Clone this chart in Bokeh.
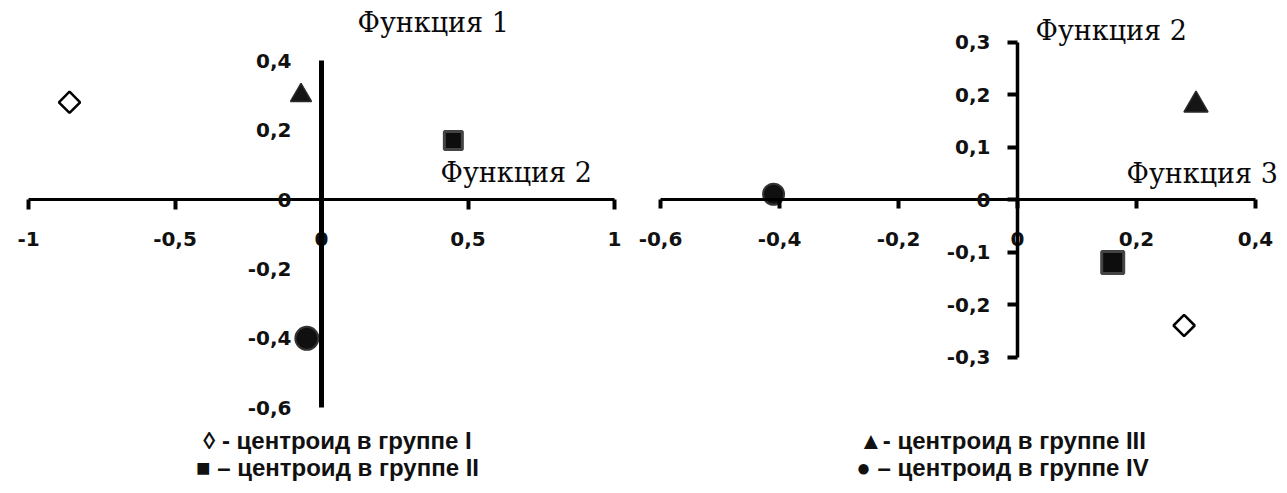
from bokeh.plotting import figure
from bokeh.models import Range1d, LinearAxis, FixedTicker, Label
from bokeh.layouts import row
from bokeh.embed import file_html
from bokeh.resources import INLINE

# ---------------- data ----------------
groups = ["I", "II", "III", "IV"]
markers = ["square", "square", "triangle", "circle"]   # group I drawn as a rotated square (◊)
marker_angle = [0.785398, 0, 0, 0]

# left chart: x = Функция 2, y = Функция 1
left_x = [-0.86, 0.45, -0.07, -0.05]
left_y = [0.28, 0.17, 0.30, -0.40]
# right chart: x = Функция 3, y = Функция 2
right_x = [0.28, 0.16, 0.30, -0.41]
right_y = [-0.24, -0.12, 0.18, 0.01]

left_xticks = [-1, -0.5, 0, 0.5, 1]
left_xlabels = ["-1", "-0,5", "0", "0,5", "1"]
left_yticks = [-0.6, -0.4, -0.2, 0, 0.2, 0.4]
left_ylabels = ["-0,6", "-0,4", "-0,2", "0", "0,2", "0,4"]
right_xticks = [-0.6, -0.4, -0.2, 0, 0.2, 0.4]
right_xlabels = ["-0,6", "-0,4", "-0,2", "0", "0,2", "0,4"]
right_yticks = [-0.3, -0.2, -0.1, 0, 0.1, 0.2, 0.3]
right_ylabels = ["-0,3", "-0,2", "-0,1", "0", "0,1", "0,2", "0,3"]

left_titles = ["Функция 1", "Функция 2"]
right_titles = ["Функция 2", "Функция 3"]
legend_left = ["\u25ca - центроид в группе I", "\u25a0 \u2013 центроид в группе II"]
legend_right = ["\u25b2- центроид в группе III", "\u25cf \u2013 центроид в группе IV"]

# ---------------- styles ----------------
marker_fill = ["white", "#0d0d0d", "#151515", "#101010"]
marker_line = ["black", "#444444", "#2a2a2a", "#333333"]
marker_lw = [2.5, 3, 1.5, 2]
TICK_FONT = "DejaVu Sans"
TITLE_FONT = "DejaVu Serif"
LEG_FONT = "Liberation Sans"

H = 490


def make_fig(width, x0px, xscale, y0px, yscale):
    xr = Range1d(-x0px / xscale, (width - x0px) / xscale)
    yr = Range1d(-(H - y0px) / yscale, y0px / yscale)
    p = figure(width=width, height=H, x_range=xr, y_range=yr,
               x_axis_location=None, y_axis_location=None,
               toolbar_location=None, output_backend="svg", min_border=0)
    p.outline_line_color = None
    p.grid.visible = False
    return p


def style_axis(ax, ticks, labels, bounds, tick_out, lw, standoff):
    ax.ticker = FixedTicker(ticks=ticks)
    ax.major_label_overrides = dict(zip(ticks, labels))
    ax.bounds = bounds
    ax.fixed_location = 0
    ax.axis_line_width = lw
    ax.axis_line_color = "black"
    ax.major_tick_in = 0
    ax.major_tick_out = tick_out
    ax.major_tick_line_width = 4
    ax.major_tick_line_color = "black" if tick_out > 0 else None
    ax.minor_tick_line_color = None
    ax.major_label_text_font = TICK_FONT
    ax.major_label_text_font_style = "bold"
    ax.major_label_text_font_size = "20px"
    ax.major_label_text_color = "#111111"
    ax.major_label_standoff = standoff


def add_points(p, xs, ys, sizes):
    for i in range(len(groups)):
        p.scatter(x=[xs[i]], y=[ys[i]], marker=markers[i], size=sizes[i],
                  angle=marker_angle[i],
                  fill_color=marker_fill[i], line_color=marker_line[i],
                  line_width=marker_lw[i])


def add_title(p, x, y, text):
    p.add_layout(Label(x=x, y=y, text=text, text_font=TITLE_FONT,
                       text_font_size="27px", text_baseline="middle", text_color="#0a0a0a"))


def add_legend(p, x, ys, texts):
    for yy, t in zip(ys, texts):
        p.add_layout(Label(x=x, y=yy, text=t, text_font=LEG_FONT, text_font_style="bold",
                           text_font_size="24px", text_align="center",
                           text_baseline="middle", text_color="#111111"))


# ---------------- left chart ----------------
LW = 630
lx0, lsx, ly0, lsy = 321, 293, 199, 347
p1 = make_fig(LW, lx0, lsx, ly0, lsy)
xa1 = LinearAxis()
style_axis(xa1, left_xticks, left_xlabels, (-1, 1), 10, 3, 22)
p1.add_layout(xa1, "below")
ya1 = LinearAxis()
style_axis(ya1, left_yticks, left_ylabels, (-0.6, 0.4), 0, 5, 30)
p1.add_layout(ya1, "left")
add_points(p1, left_x, left_y, [15, 18, 21, 23])
add_title(p1, (357 - lx0) / lsx, (ly0 - 22) / lsy, left_titles[0])
add_title(p1, (440 - lx0) / lsx, (ly0 - 172) / lsy, left_titles[1])
add_legend(p1, (337 - lx0) / lsx, [-(440 - ly0) / lsy, -(467 - ly0) / lsy], legend_left)

# ---------------- right chart ----------------
RW = 653
rx0, rsx, ry0, rsy = 387, 595, 199, 525
p2 = make_fig(RW, rx0, rsx, ry0, rsy)
xa2 = LinearAxis()
style_axis(xa2, right_xticks, right_xlabels, (-0.6, 0.4), 9, 3, 23)
p2.add_layout(xa2, "below")
ya2 = LinearAxis()
style_axis(ya2, right_yticks, right_ylabels, (-0.3, 0.3), 10, 3.5, 17)
p2.add_layout(ya2, "left")
add_points(p2, right_x, right_y, [15, 22, 24, 21])
add_title(p2, (1035 - 630 - rx0) / rsx, (ry0 - 30) / rsy, right_titles[0])
add_title(p2, (1126 - 630 - rx0) / rsx, (ry0 - 173) / rsy, right_titles[1])
add_legend(p2, (1002 - 630 - rx0) / rsx, [-(440 - ry0) / rsy, -(467 - ry0) / rsy], legend_right)

layout = row(p1, p2)
open("out.html", "w").write(file_html(layout, INLINE))
